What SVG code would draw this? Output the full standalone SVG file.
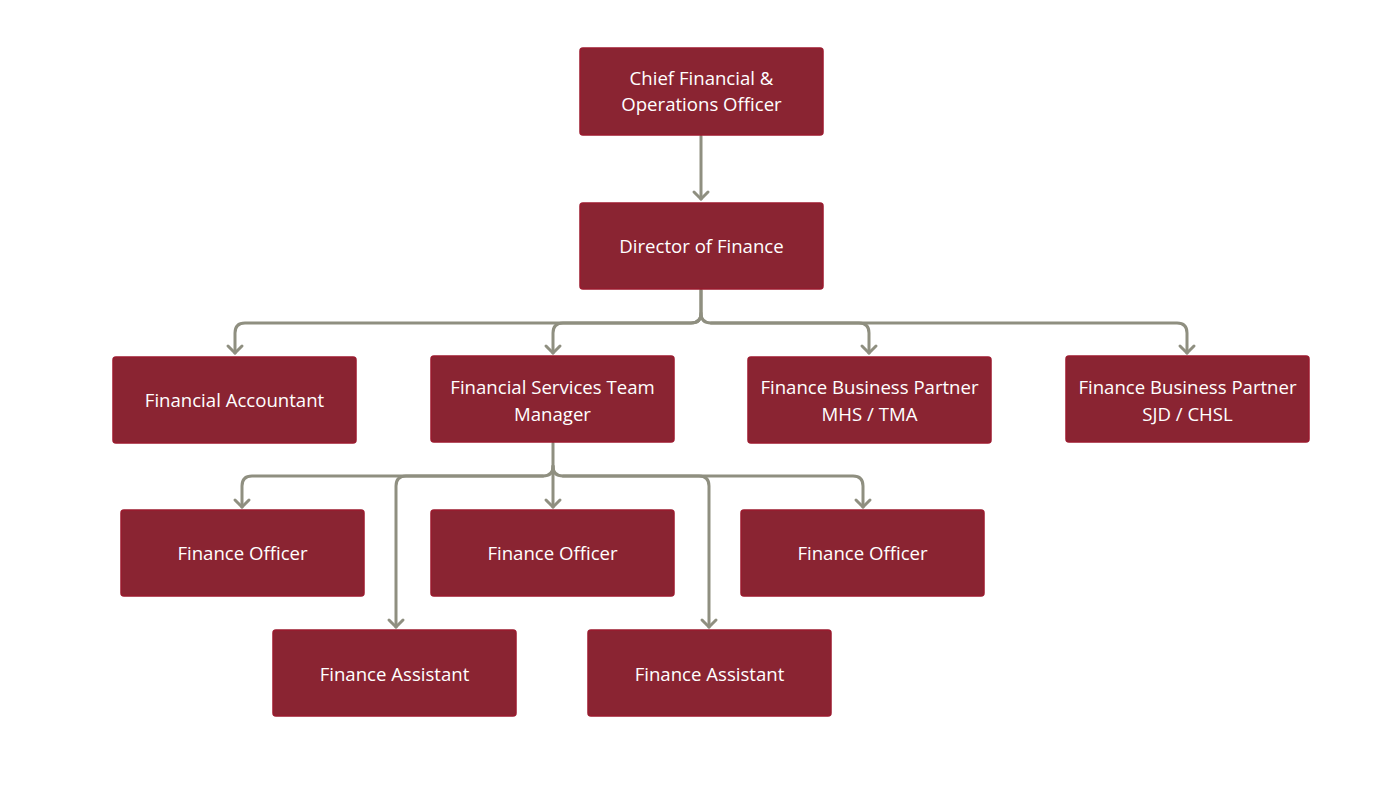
<svg xmlns="http://www.w3.org/2000/svg" width="1400" height="800" viewBox="0 0 1400 800">
<defs>
<style>
.box{fill:#8a2432;stroke:#9a1a2e;stroke-width:1.5}
.t{font-family:"Open Sans","Noto Sans","Liberation Sans",sans-serif;font-size:18.6px;fill:#ffffff;text-anchor:middle}
.c{fill:none;stroke:#8f8f80;stroke-width:3;stroke-linecap:round;stroke-linejoin:round}
</style>
</defs>
<rect width="1400" height="800" fill="#ffffff"/>
<g id="connectors">
<path class="c" d="M701,136 V199"/>
<path class="c" d="M694,192 L701,199 L708,192"/>
<path class="c" d="M701,290 V313 Q701,323 691,323 H245 Q235,323 235,333 V353"/>
<path class="c" d="M701,313 Q701,323 691,323 H563 Q553,323 553,333 V353"/>
<path class="c" d="M701,290 V313 Q701,323 711,323 H859 Q869,323 869,333 V353"/>
<path class="c" d="M711,323 H1177 Q1187,323 1187,333 V353"/>
<path class="c" d="M228,346 L235,353 L242,346"/>
<path class="c" d="M546,346 L553,353 L560,346"/>
<path class="c" d="M862,346 L869,353 L876,346"/>
<path class="c" d="M1180,346 L1187,353 L1194,346"/>
<path class="c" d="M553,443 V466 Q553,476 543,476 H252 Q242,476 242,486 V507"/>
<path class="c" d="M543,476 H406 Q396,476 396,486 V627"/>
<path class="c" d="M553,466 V507"/>
<path class="c" d="M553,466 Q553,476 563,476 H853 Q863,476 863,486 V507"/>
<path class="c" d="M563,476 H699 Q709,476 709,486 V627"/>
<path class="c" d="M235,500 L242,507 L249,500"/>
<path class="c" d="M546,500 L553,507 L560,500"/>
<path class="c" d="M856,500 L863,507 L870,500"/>
<path class="c" d="M389,620 L396,627 L403,620"/>
<path class="c" d="M702,620 L709,627 L716,620"/>
</g>
<g id="cfo"><rect class="box" x="580" y="48" width="243" height="87" rx="3"/><text class="t" x="701.5" y="84.5">Chief Financial &amp;</text><text class="t" x="701.5" y="110.5">Operations Officer</text></g>
<g id="director"><rect class="box" x="580" y="203" width="243" height="86" rx="3"/><text class="t" x="701.5" y="252.5">Director of Finance</text></g>
<g id="fin-accountant"><rect class="box" x="113" y="357" width="243" height="86" rx="3"/><text class="t" x="234.5" y="406.5">Financial Accountant</text></g>
<g id="fstm"><rect class="box" x="431" y="356" width="243" height="86" rx="3"/><text class="t" x="552.5" y="393.5">Financial Services Team</text><text class="t" x="552.5" y="420.5">Manager</text></g>
<g id="fbp-mhs"><rect class="box" x="748" y="357" width="243" height="86" rx="3"/><text class="t" x="869.5" y="393.5">Finance Business Partner</text><text class="t" x="869.5" y="420.5">MHS / TMA</text></g>
<g id="fbp-sjd"><rect class="box" x="1066" y="356" width="243" height="86" rx="3"/><text class="t" x="1187.5" y="393.5">Finance Business Partner</text><text class="t" x="1187.5" y="420.5">SJD / CHSL</text></g>
<g id="fo1"><rect class="box" x="121" y="510" width="243" height="86" rx="3"/><text class="t" x="242.5" y="559.5">Finance Officer</text></g>
<g id="fo2"><rect class="box" x="431" y="510" width="243" height="86" rx="3"/><text class="t" x="552.5" y="559.5">Finance Officer</text></g>
<g id="fo3"><rect class="box" x="741" y="510" width="243" height="86" rx="3"/><text class="t" x="862.5" y="559.5">Finance Officer</text></g>
<g id="fa1"><rect class="box" x="273" y="630" width="243" height="86" rx="3"/><text class="t" x="394.5" y="680.5">Finance Assistant</text></g>
<g id="fa2"><rect class="box" x="588" y="630" width="243" height="86" rx="3"/><text class="t" x="709.5" y="680.5">Finance Assistant</text></g>
</svg>
